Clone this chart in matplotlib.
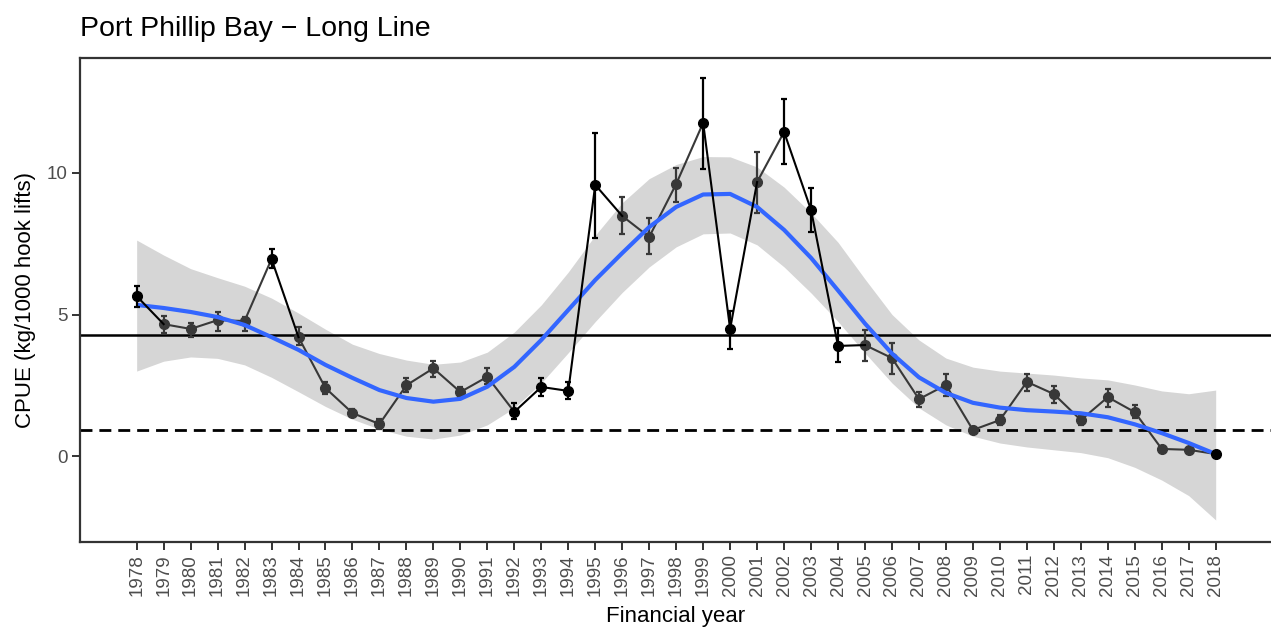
import matplotlib
matplotlib.use("Agg")
import matplotlib.pyplot as plt
import numpy as np

plt.rcParams['font.family'] = ['Liberation Sans', 'DejaVu Sans']

# CPUE index per financial year
years = list(range(1978, 2019))
cpue = [5.65, 4.66, 4.49, 4.80, 4.77, 6.96, 4.20, 2.40, 1.52, 1.13,
        2.50, 3.10, 2.26, 2.80, 1.56, 2.44, 2.30, 9.58, 8.48, 7.74,
        9.61, 11.77, 4.49, 9.68, 11.45, 8.69, 3.89, 3.92, 3.46, 2.01,
        2.51, 0.92, 1.27, 2.62, 2.19, 1.27, 2.08, 1.55, 0.25, 0.22, 0.07]
cpue_lo = [5.27, 4.35, 4.20, 4.42, 4.40, 6.64, 3.92, 2.20, 1.40, 0.95,
           2.25, 2.80, 2.08, 2.54, 1.30, 2.12, 2.01, 7.70, 7.84, 7.14,
           8.98, 10.14, 3.78, 8.59, 10.30, 7.92, 3.32, 3.36, 2.90, 1.73,
           2.12, 0.82, 1.10, 2.30, 1.87, 1.10, 1.73, 1.34, np.nan, np.nan, np.nan]
cpue_hi = [6.00, 4.95, 4.70, 5.09, 4.90, 7.31, 4.56, 2.60, 1.65, 1.30,
           2.76, 3.36, 2.44, 3.10, 1.87, 2.76, 2.61, 11.40, 9.15, 8.41,
           10.18, 13.36, 5.12, 10.74, 12.60, 9.47, 4.52, 4.45, 4.00, 2.26,
           2.90, 1.02, 1.45, 2.90, 2.47, 1.45, 2.37, 1.80, np.nan, np.nan, np.nan]
# years drawn in black (others dark grey)
black_years = [1978, 1983, 1992, 1993, 1994, 1995, 1999, 2000, 2002, 2003, 2004, 2018]

# loess trend and its confidence band
trend = [5.34, 5.23, 5.09, 4.91, 4.63, 4.20, 3.75, 3.22, 2.76, 2.33,
         2.05, 1.92, 2.02, 2.45, 3.15, 4.10, 5.16, 6.22, 7.17, 8.09,
         8.80, 9.24, 9.26, 8.80, 7.99, 7.00, 5.85, 4.68, 3.62, 2.78,
         2.23, 1.88, 1.71, 1.62, 1.57, 1.51, 1.37, 1.12, 0.81, 0.46, 0.07]
trend_hi = [7.63, 7.10, 6.62, 6.30, 6.00, 5.58, 5.05, 4.48, 3.95, 3.62,
            3.39, 3.24, 3.32, 3.67, 4.38, 5.34, 6.50, 7.80, 8.95, 9.80,
            10.30, 10.58, 10.57, 10.21, 9.50, 8.59, 7.55, 6.25, 5.00, 4.10,
            3.46, 3.14, 3.00, 2.93, 2.86, 2.76, 2.69, 2.51, 2.30, 2.20, 2.33]
trend_lo = [3.00, 3.35, 3.50, 3.45, 3.22, 2.78, 2.27, 1.75, 1.30, 0.95,
            0.70, 0.60, 0.74, 1.10, 1.70, 2.58, 3.65, 4.75, 5.78, 6.68,
            7.39, 7.85, 7.88, 7.46, 6.68, 5.76, 4.75, 3.64, 2.58, 1.70,
            1.10, 0.70, 0.46, 0.32, 0.22, 0.12, -0.06, -0.40, -0.85, -1.40, -2.26]

ref_solid = 4.28
ref_dashed = 0.92

BLACK = '#000000'
GREY = '#383838'

fig = plt.figure(figsize=(12.71, 6.34), dpi=100)
ax = fig.add_axes([80 / 1271, 1 - 541.5 / 634, 1 - 80 / 1271, (541.5 - 57.5) / 634])

ax.fill_between(years, trend_lo, trend_hi, color='#999999', alpha=0.4, linewidth=0, zorder=1)
ax.axhline(ref_solid, color='black', linewidth=1.8, zorder=2)
ax.axhline(ref_dashed, color='black', linewidth=2.0, dashes=(4.3, 2.5), zorder=2)

cols = [BLACK if y in black_years else GREY for y in years]

# connecting line: each segment takes the colour of its start point
for i in range(len(years) - 1):
    c = cols[i]
    z = 5 if c == BLACK else 3
    ax.plot(years[i:i + 2], cpue[i:i + 2], color=c, linewidth=1.5, zorder=z)

ax.plot(years, trend, color='#3366FF', linewidth=3, solid_capstyle='butt', zorder=4)

for y, m, lo, hi, c in zip(years, cpue, cpue_lo, cpue_hi, cols):
    z = 5 if c == BLACK else 3
    if not np.isnan(lo):
        ax.errorbar([y], [m], yerr=[[m - lo], [hi - m]], fmt='none', ecolor=c,
                    elinewidth=1.6, capsize=2.5, capthick=1.6, zorder=z)
    ax.plot([y], [m], 'o', color=c, markersize=7, zorder=z + 0.5)

ax.set_xlim(1975.9, 2020.05)
ax.set_ylim(-3.02, 14.08)
ax.set_xticks(years)
ax.set_xticklabels([str(y) for y in years], rotation=90)
ax.set_yticks([0, 5, 10])
ax.tick_params(axis='both', colors='#333333', labelcolor='#4D4D4D', labelsize=13.5,
               width=1.4, length=5.5)
for side in ['left', 'bottom', 'top']:
    ax.spines[side].set_color('#333333')
    ax.spines[side].set_linewidth(1.6)
ax.spines['right'].set_visible(False)

ax.set_xlabel('Financial year', fontsize=16, color='black', labelpad=7)
ax.set_ylabel('CPUE (kg/1000 hook lifts)', fontsize=16, color='black', labelpad=8)

fig.text(80 / 1271, 1 - 36 / 634, 'Port Phillip Bay \u2212 Long Line', fontsize=20.5,
         ha='left', va='baseline', color='black')

fig.savefig('out.png', dpi=100)
